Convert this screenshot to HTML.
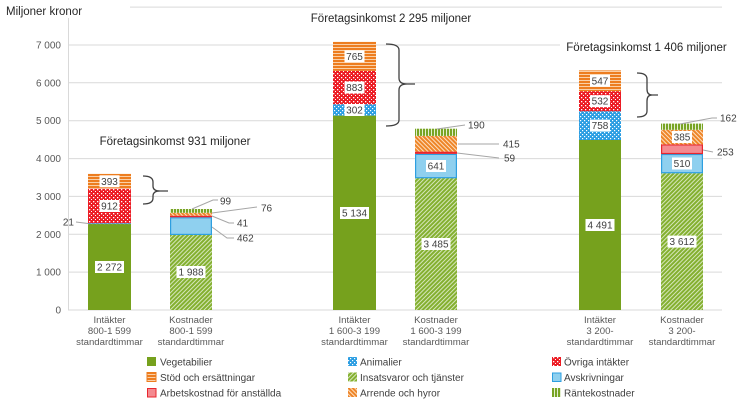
<!DOCTYPE html>
<html><head><meta charset="utf-8"><style>
html,body{margin:0;padding:0;background:#fff;}
svg{display:block;font-family:"Liberation Sans",Arial,sans-serif;}
.tk{font-size:10px;fill:#595959;text-anchor:end;}
.xl{font-size:9.6px;fill:#595959;text-anchor:middle;}
.lg{font-size:10px;fill:#404040;}
.dl{font-size:10px;fill:#404040;text-anchor:middle;}
.co{font-size:10px;fill:#404040;}
.tt{font-size:11.5px;fill:#262626;text-anchor:middle;}
.ld{stroke:#a6a6a6;stroke-width:1;fill:none;}
.br{stroke:#404040;stroke-width:1.3;fill:none;}
</style></head><body>
<svg width="739" height="403" viewBox="0 0 739 403" xmlns="http://www.w3.org/2000/svg">
<defs>
<pattern id="anim" width="4" height="4" patternUnits="userSpaceOnUse">
<rect width="4" height="4" fill="#2a9de2"/><rect x="0" y="0" width="1.2" height="1.2" fill="#fff"/><rect x="2" y="2" width="1.2" height="1.2" fill="#fff"/></pattern>
<pattern id="ovr" width="4" height="4" patternUnits="userSpaceOnUse">
<rect width="4" height="4" fill="#ec1c24"/><rect x="1" y="1" width="1.3" height="1.3" fill="#fff"/><rect x="3" y="3" width="1.3" height="1.3" fill="#fff"/></pattern>
<pattern id="stod" width="4" height="3" patternUnits="userSpaceOnUse">
<rect width="4" height="3" fill="#ed7d1f"/><rect y="2" width="4" height="1" fill="#fbd0a6"/></pattern>
<pattern id="ins" width="3" height="3" patternUnits="userSpaceOnUse" patternTransform="rotate(45)">
<rect width="3" height="3" fill="#84b030"/><rect width="0.9" height="3" fill="#dfeccb"/></pattern>
<pattern id="arr" width="3" height="3" patternUnits="userSpaceOnUse" patternTransform="rotate(-45)">
<rect width="3" height="3" fill="#ee8528"/><rect width="1" height="3" fill="#fde0c2"/></pattern>
<pattern id="rant" width="3" height="4" patternUnits="userSpaceOnUse">
<rect width="3" height="4" fill="#78a424"/><rect x="2" width="1" height="4" fill="#e3eed0"/></pattern>
</defs>

<g stroke="#d9d9d9" stroke-width="1">
<line x1="130" y1="7.1" x2="722" y2="7.1"/>
<line x1="68" y1="45.0" x2="560" y2="45.0"/>
<line x1="68" y1="82.8" x2="722" y2="82.8"/>
<line x1="68" y1="120.7" x2="722" y2="120.7"/>
<line x1="68" y1="158.6" x2="722" y2="158.6"/>
<line x1="68" y1="196.4" x2="722" y2="196.4"/>
<line x1="68" y1="234.3" x2="722" y2="234.3"/>
<line x1="68" y1="272.1" x2="722" y2="272.1"/>
<line x1="68" y1="310" x2="722" y2="310"/>
<line x1="68.5" y1="18" x2="68.5" y2="310"/>
</g>

<text class="tk" x="61" y="313.5">0</text>
<text class="tk" x="61" y="275.6">1 000</text>
<text class="tk" x="61" y="237.8">2 000</text>
<text class="tk" x="61" y="199.9">3 000</text>
<text class="tk" x="61" y="162.1">4 000</text>
<text class="tk" x="61" y="124.2">5 000</text>
<text class="tk" x="61" y="86.3">6 000</text>
<text class="tk" x="61" y="48.5">7 000</text>
<text x="6" y="15" style="font-size:11.5px;fill:#262626">Miljoner kronor</text>

<rect x="88" y="224" width="43" height="86" fill="#76a11d"/>
<rect x="88" y="223.2" width="43" height="0.9" fill="url(#anim)"/>
<rect x="88" y="188.7" width="43" height="34.5" fill="url(#ovr)"/>
<rect x="88" y="173.8" width="43" height="14.9" fill="url(#stod)"/>
<rect x="170" y="234.7" width="42" height="75.3" fill="url(#ins)"/>
<rect x="170.6" y="217.8" width="40.8" height="16.6" fill="#8fd0ef" stroke="#2e9fe0" stroke-width="1.2"/>
<rect x="170" y="215.7" width="42" height="1.6" fill="#e8262e"/>
<rect x="170" y="212.8" width="42" height="2.9" fill="url(#arr)"/>
<rect x="170" y="209" width="42" height="3.8" fill="url(#rant)"/>

<rect x="333" y="115.6" width="43" height="194.4" fill="#76a11d"/>
<rect x="333" y="104.2" width="43" height="11.4" fill="url(#anim)"/>
<rect x="333" y="70.8" width="43" height="33.4" fill="url(#ovr)"/>
<rect x="333" y="41.8" width="43" height="29" fill="url(#stod)"/>
<rect x="415" y="178.1" width="42" height="131.9" fill="url(#ins)"/>
<rect x="415.6" y="154.4" width="40.8" height="23.3" fill="#8fd0ef" stroke="#2e9fe0" stroke-width="1.2"/>
<rect x="415" y="151.6" width="42" height="2.3" fill="#e8262e"/>
<rect x="415" y="135.9" width="42" height="15.7" fill="url(#arr)"/>
<rect x="415" y="128.7" width="42" height="7.2" fill="url(#rant)"/>

<rect x="579" y="140" width="42" height="170" fill="#76a11d"/>
<rect x="579" y="111.3" width="42" height="28.7" fill="url(#anim)"/>
<rect x="579" y="91.2" width="42" height="20.1" fill="url(#ovr)"/>
<rect x="579" y="70.4" width="42" height="20.8" fill="url(#stod)"/>
<rect x="661" y="173.2" width="42" height="136.8" fill="url(#ins)"/>
<rect x="661.6" y="154.5" width="40.8" height="18.2" fill="#8fd0ef" stroke="#2e9fe0" stroke-width="1.2"/>
<rect x="661.6" y="144.9" width="40.8" height="8.6" fill="#f48a90" stroke="#e8262e" stroke-width="1.2"/>
<rect x="661" y="129.8" width="42" height="14.6" fill="url(#arr)"/>
<rect x="661" y="123.6" width="42" height="6.2" fill="url(#rant)"/>

<g fill="#fff">
<rect x="95" y="261" width="29" height="12"/>
<rect x="99.5" y="200" width="20" height="12"/>
<rect x="99.5" y="175.3" width="20" height="12"/>
<rect x="176.5" y="266" width="29" height="12"/>
<rect x="340" y="207" width="29" height="12"/>
<rect x="344.5" y="104" width="20" height="12"/>
<rect x="344.5" y="81.5" width="20" height="12"/>
<rect x="344.5" y="50.3" width="20" height="12"/>
<rect x="421.5" y="238" width="29" height="12"/>
<rect x="426" y="160" width="20" height="12"/>
<rect x="585.5" y="219" width="29" height="12"/>
<rect x="590" y="119.6" width="20" height="12"/>
<rect x="590" y="95.2" width="20" height="12"/>
<rect x="590" y="74.8" width="20" height="12"/>
<rect x="667.5" y="235.6" width="29" height="12"/>
<rect x="672" y="157.5" width="20" height="12"/>
<rect x="672" y="131" width="20" height="12"/>
</g>
<text class="dl" x="109.5" y="270.5">2 272</text>
<text class="dl" x="109.5" y="209.5">912</text>
<text class="dl" x="109.5" y="184.8">393</text>
<text class="dl" x="191" y="275.5">1 988</text>
<text class="dl" x="354.5" y="216.5">5 134</text>
<text class="dl" x="354.5" y="113.5">302</text>
<text class="dl" x="354.5" y="91">883</text>
<text class="dl" x="354.5" y="59.8">765</text>
<text class="dl" x="436" y="247.5">3 485</text>
<text class="dl" x="436" y="169.5">641</text>
<text class="dl" x="600" y="228.5">4 491</text>
<text class="dl" x="600" y="129.1">758</text>
<text class="dl" x="600" y="104.7">532</text>
<text class="dl" x="600" y="84.3">547</text>
<text class="dl" x="682" y="245.1">3 612</text>
<text class="dl" x="682" y="167">510</text>
<text class="dl" x="682" y="140.5">385</text>

<polyline class="ld" points="76,222 88,223.5"/>
<text class="co" x="74" y="225.5" text-anchor="end">21</text>
<polyline class="ld" points="192,209 213,200 218,200"/>
<text class="co" x="220" y="204.5">99</text>
<polyline class="ld" points="212,213 257,207"/>
<text class="co" x="261" y="211.5">76</text>
<polyline class="ld" points="212,216 229,223 234,223"/>
<text class="co" x="237" y="226.5">41</text>
<polyline class="ld" points="212,227 227,238 234,238"/>
<text class="co" x="237" y="241.5">462</text>
<polyline class="ld" points="437,129 465,125"/>
<text class="co" x="468" y="128.5">190</text>
<polyline class="ld" points="458,144 499,144"/>
<text class="co" x="503" y="147.5">415</text>
<polyline class="ld" points="457,153 499,158"/>
<text class="co" x="504" y="161.5">59</text>
<polyline class="ld" points="680,124 712,118 717,118"/>
<text class="co" x="720" y="121.5">162</text>
<polyline class="ld" points="703,150 713,152"/>
<text class="co" x="717" y="155.5">253</text>

<path class="br" d="M143,176 Q153,176 153,182 L153,186 Q153,191 160,191 L168,191 M160,191 Q153,191 153,196 L153,198 Q153,204 143,204"/>
<path class="br" d="M386,44 Q399,44 399,50 L399,78 Q399,84 407,84 L415,84 M407,84 Q399,84 399,90 L399,120 Q399,126 386,126"/>
<path class="br" d="M637,73 Q647,73 647,79 L647,89 Q647,95 652,95 L658,95 M652,95 Q647,95 647,101 L647,111 Q647,117 637,117"/>

<text class="tt" x="175" y="145">Företagsinkomst 931 miljoner</text>
<text class="tt" x="391" y="22">Företagsinkomst 2 295 miljoner</text>
<text class="tt" x="646.5" y="51">Företagsinkomst 1 406 miljoner</text>

<g class="xl">
<text x="109.5" y="323">Intäkter</text><text x="109.5" y="334">800-1 599</text><text x="109.5" y="345">standardtimmar</text>
<text x="191" y="323">Kostnader</text><text x="191" y="334">800-1 599</text><text x="191" y="345">standardtimmar</text>
<text x="354.5" y="323">Intäkter</text><text x="354.5" y="334">1 600-3 199</text><text x="354.5" y="345">standardtimmar</text>
<text x="436" y="323">Kostnader</text><text x="436" y="334">1 600-3 199</text><text x="436" y="345">standardtimmar</text>
<text x="600" y="323">Intäkter</text><text x="600" y="334">3 200-</text><text x="600" y="345">standardtimmar</text>
<text x="682" y="323">Kostnader</text><text x="682" y="334">3 200-</text><text x="682" y="345">standardtimmar</text>
</g>

<rect x="147" y="357" width="9" height="9" fill="#76a11d"/>
<text class="lg" x="160" y="365.5">Vegetabilier</text>
<rect x="147" y="372.5" width="9" height="9" fill="url(#stod)" stroke="#ed7d1f" stroke-width="1"/>
<text class="lg" x="160" y="381">Stöd och ersättningar</text>
<rect x="147.5" y="388.5" width="8.5" height="8.5" fill="#f48a90" stroke="#e8262e" stroke-width="1"/>
<text class="lg" x="160" y="396.5">Arbetskostnad för anställda</text>

<rect x="348" y="357" width="9" height="9" fill="url(#anim)"/>
<text class="lg" x="360" y="365.5">Animalier</text>
<rect x="348" y="372.5" width="9" height="9" fill="url(#ins)"/>
<text class="lg" x="360" y="381">Insatsvaror och tjänster</text>
<rect x="348" y="388" width="9" height="9" fill="url(#arr)"/>
<text class="lg" x="360" y="396.5">Arrende och hyror</text>

<rect x="552" y="357" width="9" height="9" fill="url(#ovr)"/>
<text class="lg" x="564" y="365.5">Övriga intäkter</text>
<rect x="552.5" y="373" width="8.5" height="8.5" fill="#8fd0ef" stroke="#2e9fe0" stroke-width="1"/>
<text class="lg" x="564" y="381">Avskrivningar</text>
<rect x="552" y="388" width="9" height="9" fill="url(#rant)"/>
<text class="lg" x="564" y="396.5">Räntekostnader</text>
</svg>
</body></html>
